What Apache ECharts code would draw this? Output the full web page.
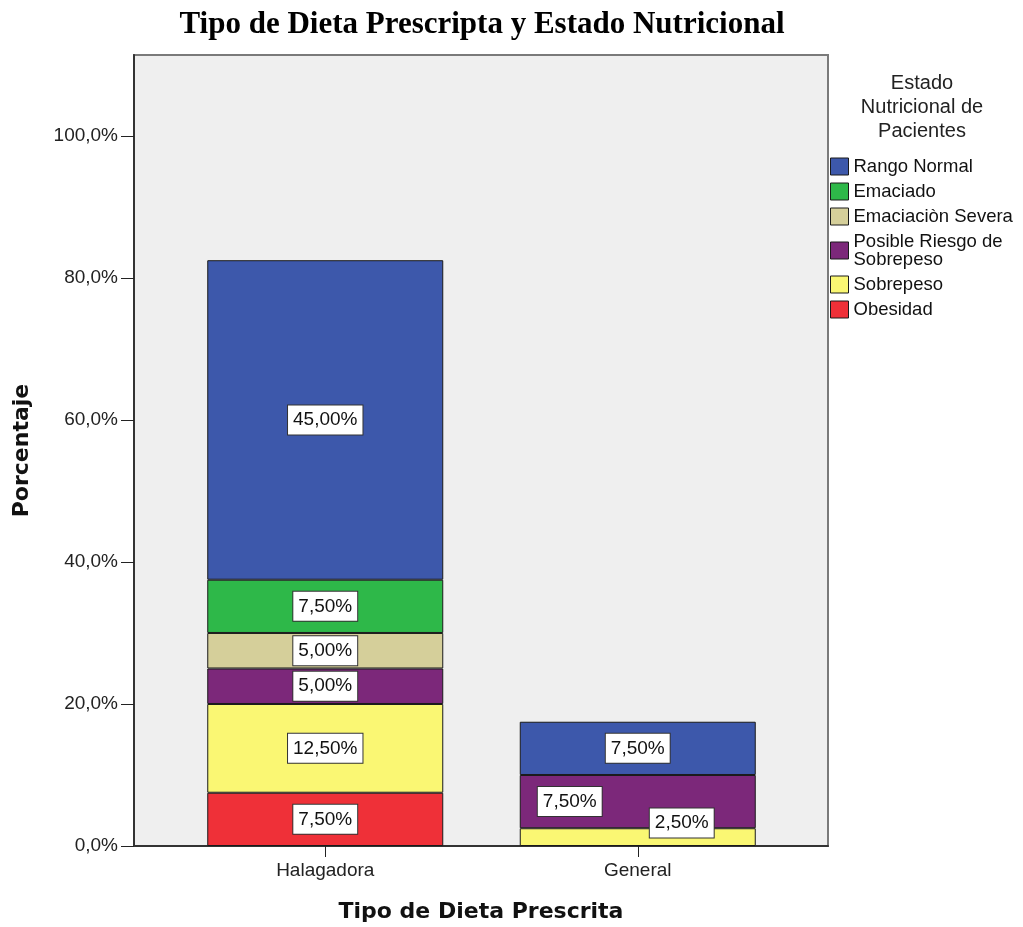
<!DOCTYPE html>
<html>
<head>
<meta charset="utf-8">
<script src="https://cdn.jsdelivr.net/npm/echarts@6/dist/echarts.min.js"></script>
<style>
  html, body { margin: 0; padding: 0; background: #fff; }
  #chart { width: 1023px; height: 927px; }
</style>
</head>
<body>
<div id="chart"></div>
<script>
// Categories on the x axis
const categories = ['Halagadora', 'General'];

// Percentages per nutritional state (stack order, bottom to top); null = not present
const obesidad         = [7.5, null];
const sobrepeso        = [12.5, 2.5];
const posibleRiesgo    = [5.0, 7.5];
const emaciacionSevera = [5.0, null];
const emaciado         = [7.5, null];
const rangoNormal      = [45.0, 7.5];

const yTicks = [0, 20, 40, 60, 80, 100];
const yMax = 111.4;

const FONT = '"Liberation Sans", Arial, sans-serif';
const BOLD_FONT = '"DejaVu Sans", Verdana, sans-serif';

const seriesDefs = [
  { name: 'Obesidad', data: obesidad, color: '#EF3038' },
  { name: 'Sobrepeso', data: sobrepeso, color: '#FAF773' },
  { name: 'Posible Riesgo de\nSobrepeso', data: posibleRiesgo, color: '#7C287A' },
  { name: 'Emaciaciòn Severa', data: emaciacionSevera, color: '#D5CF9A' },
  { name: 'Emaciado', data: emaciado, color: '#2EB849' },
  { name: 'Rango Normal', data: rangoNormal, color: '#3D58AB' }
];

// Per-cell label nudges where small segments would collide
const labelOffsets = {
  'Posible Riesgo de\nSobrepeso': [null, [-68, 0]],
  'Sobrepeso': [null, [44, -14]]
};

const fmt = v => v.toFixed(2).replace('.', ',') + '%';

const series = seriesDefs.map(s => ({
  name: s.name,
  type: 'bar',
  stack: 'total',
  xAxisIndex: 1,
  yAxisIndex: 1,
  barWidth: 236,
  itemStyle: { color: s.color, borderColor: '#1a1a1a', borderWidth: 1 },
  data: s.data.map((v, i) => {
    const off = labelOffsets[s.name] && labelOffsets[s.name][i];
    const item = { value: v };
    if (off) item.label = { offset: off };
    return item;
  }),
  label: {
    show: true,
    position: 'inside',
    formatter: p => fmt(p.value),
    color: '#111',
    fontFamily: FONT,
    fontSize: 19,
    lineHeight: 20,
    backgroundColor: '#fff',
    borderColor: '#333',
    borderWidth: 1,
    padding: [5, 5, 4, 5]
  }
}));

const chart = echarts.init(document.getElementById('chart'), null, { renderer: 'canvas' });

chart.setOption({
  animation: false,
  backgroundColor: '#fff',
  title: [
    {
      text: 'Tipo de Dieta Prescripta y Estado Nutricional',
      left: 477, top: 4, textAlign: 'center',
      textStyle: { fontFamily: '"Liberation Serif", "Times New Roman", serif', fontWeight: 'bold', fontSize: 31, color: '#000' }
    },
    {
      text: 'Estado\nNutricional de\nPacientes',
      left: 917, top: 66, textAlign: 'center',
      textStyle: { fontFamily: FONT, fontWeight: 'normal', fontSize: 20, lineHeight: 24, color: '#222' }
    }
  ],
  legend: {
    orient: 'vertical',
    left: 825, top: 152,
    itemWidth: 18, itemHeight: 17,
    itemGap: 6,
    icon: 'rect',
    data: seriesDefs.map(s => s.name).reverse(),
    itemStyle: { borderColor: '#1a1a1a', borderWidth: 1 },
    textStyle: { fontFamily: FONT, fontSize: 18.5, lineHeight: 18, color: '#111' },
    selectedMode: false
  },
  grid: [
    { left: 134, top: 55, width: 694, height: 791, outerBoundsMode: 'none', containLabel: false,
      show: true, backgroundColor: '#EFEFEF', borderColor: '#7a7a7a', borderWidth: 2 },
    { left: 169, top: 55, width: 625, height: 791, outerBoundsMode: 'none', containLabel: false }
  ],
  xAxis: [
    {
      gridIndex: 0, type: 'value', min: 0, max: 1,
      axisLine: { show: true, onZero: false, lineStyle: { color: '#333', width: 2 } },
      axisTick: { show: false }, axisLabel: { show: false }, splitLine: { show: false },
      name: 'Tipo de Dieta Prescrita', nameLocation: 'middle', nameGap: 55,
      nameTextStyle: { fontFamily: BOLD_FONT, fontWeight: 'bold', fontSize: 22, color: '#111' }
    },
    {
      gridIndex: 1, type: 'category', data: categories,
      axisLine: { show: false },
      axisTick: { show: true, alignWithLabel: true, length: 11, lineStyle: { color: '#222', width: 1 } },
      axisLabel: { fontFamily: FONT, fontSize: 19, color: '#222', margin: 15 },
      splitLine: { show: false }
    }
  ],
  yAxis: [
    {
      gridIndex: 0, type: 'value', min: 0, max: yMax,
      axisLine: { show: true, onZero: false, lineStyle: { color: '#333', width: 2 } },
      axisTick: { show: true, length: 13, customValues: yTicks, lineStyle: { color: '#222', width: 1 } },
      axisLabel: {
        fontFamily: FONT, fontSize: 19, color: '#222', margin: 16,
        customValues: yTicks,
        formatter: v => v.toFixed(1).replace('.', ',') + '%'
      },
      splitLine: { show: false },
      name: 'Porcentaje', nameLocation: 'middle', nameGap: 101,
      nameTextStyle: { fontFamily: BOLD_FONT, fontWeight: 'bold', fontSize: 22, color: '#111' }
    },
    {
      gridIndex: 1, type: 'value', min: 0, max: yMax,
      show: false, splitLine: { show: false }
    }
  ],
  series: series
});
</script>
</body>
</html>
